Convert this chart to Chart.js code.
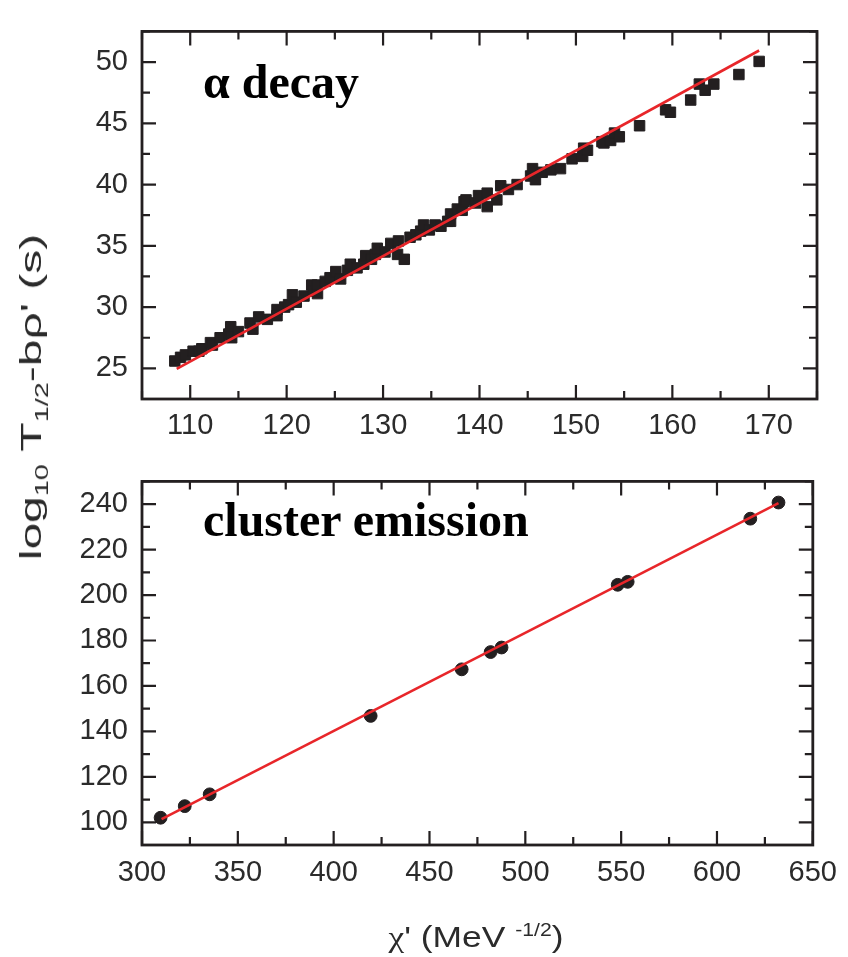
<!DOCTYPE html>
<html><head><meta charset="utf-8">
<script src="https://cdn.jsdelivr.net/npm/chart.js@4.4.1/dist/chart.umd.min.js"></script>
<style>
html,body{margin:0;padding:0;background:#fff;}
#wrap{position:relative;width:848px;height:957px;overflow:hidden;background:#fff;}
.box{position:absolute;left:0;}
.ann{position:absolute;font-family:"Liberation Serif","Times New Roman",serif;font-weight:bold;font-size:48px;line-height:48px;color:#000;white-space:nowrap;}
.ttl{position:absolute;font-family:"Liberation Sans",Arial,sans-serif;font-size:30px;line-height:30px;color:#2b2b2b;white-space:nowrap;}
.ttl sub,.ttl sup{font-size:18px;line-height:0;}
</style></head>
<body><div id="wrap">
<div class="box" style="top:0;width:848px;height:450px"><canvas id="c1" width="848" height="450"></canvas></div>
<div class="box" style="top:450px;width:848px;height:507px"><canvas id="c2" width="848" height="507"></canvas></div>
<div class="ann" style="left:203px;top:58px">α decay</div>
<div class="ann" style="left:203px;top:496px">cluster emission</div>
<div class="ttl" style="left:31px;top:397px;transform:translate(-50%,-50%) rotate(-90deg) scaleX(1.6)">log<sub>10</sub> T<sub>1/2</sub>-bρ' (s)</div>
<div class="ttl" style="left:476px;top:922px;transform:translateX(-50%) scaleX(1.18)"><span style="font-family:'Liberation Serif',serif">χ</span>' (MeV <sup>-1/2</sup>)</div>
</div>
<script>
// ---- alpha decay data ----
const alphaX = [108.4,109.0,109.5,110.3,110.9,111.2,112.1,112.3,113.1,114.0,114.2,114.3,115.0,116.2,116.5,117.1,118.0,119.0,119.0,119.8,120.2,120.6,121.0,121.8,122.6,122.8,123.2,123.2,124.0,124.5,125.1,125.6,126.3,126.6,127.3,128.0,128.2,128.8,129.2,129.4,130.2,130.8,131.5,131.6,132.2,132.8,133.4,133.9,134.2,134.8,135.4,136.0,136.7,137.0,137.0,137.7,138.2,138.4,138.6,139.6,139.9,140.8,140.8,141.8,142.2,143.0,143.9,145.3,145.5,145.8,146.5,147.4,148.4,149.6,150.7,150.8,151.2,152.7,152.9,153.6,154.0,154.5,156.6,159.3,159.8,161.9,162.8,163.4,164.3,166.9,169.0];
const alphaY = [25.6,25.9,26.1,26.4,26.4,26.6,27.1,26.9,27.5,27.8,28.4,27.5,28.0,28.7,28.2,29.2,29.0,29.8,29.3,30.0,30.2,31.0,30.4,30.9,31.8,31.3,31.1,31.8,32.1,32.4,32.9,32.3,33.0,33.5,33.2,33.5,34.2,33.9,34.3,34.8,34.5,35.2,34.3,35.4,33.9,35.7,35.9,36.2,36.7,36.3,36.7,36.6,37.0,37.6,37.0,38.0,37.9,38.6,38.75,38.5,39.1,38.2,39.3,38.75,39.9,39.6,40.0,40.7,41.3,40.4,41.0,41.2,41.3,42.1,42.3,42.97,42.8,43.5,43.4,43.6,44.2,43.9,44.8,46.1,45.9,46.9,48.2,47.7,48.2,48.98,50.05];
const alphaFitX = [108.6, 169.0];
const alphaFitY = [24.95, 50.94];
const alphaXTicks = [110,120,130,140,150,160,170];
const alphaYTicks = [25,30,35,40,45,50];

// ---- cluster emission data ----
const clusterX = [309.7,322.3,335.3,419.3,466.8,481.9,487.6,548.2,553.4,617.4,632.1];
const clusterY = [102.0,107.1,112.3,146.8,167.3,174.9,176.9,204.5,205.8,233.6,240.7];
const clusterFitX = [310.2, 632.1];
const clusterFitY = [101.35, 240.4];
const clusterXTicks = [300,350,400,450,500,550,600,650];
const clusterYTicks = [100,120,140,160,180,200,220,240];

const INK = '#231f20';
const RED = '#e8262a';
const LABEL = '#2b2b2b';

function pts(xs, ys){ return xs.map((v,i)=>({x:v, y:ys[i]})); }

const framePlugin = {
  id:'frame',
  afterDraw(chart){
    const {ctx, chartArea:a} = chart;
    const x = chart.scales.x, y = chart.scales.y;
    const MAJ = 14, MIN = 8;
    function minors(s){
      const t = s.ticks.map(k=>k.value);
      const step = t[1]-t[0];
      const r = [];
      for(let v = t[0]-step/2; v <= s.max+1e-9; v += step){ if(v >= s.min-1e-9) r.push(v); }
      return r;
    }
    ctx.save();
    ctx.strokeStyle = INK;
    ctx.lineWidth = 2.2;
    ctx.beginPath();
    const xt = (v,len)=>{ const p = x.getPixelForValue(v); ctx.moveTo(p,a.bottom); ctx.lineTo(p,a.bottom-len); ctx.moveTo(p,a.top); ctx.lineTo(p,a.top+len); };
    const yt = (v,len)=>{ const p = y.getPixelForValue(v); ctx.moveTo(a.left,p); ctx.lineTo(a.left+len,p); ctx.moveTo(a.right,p); ctx.lineTo(a.right-len,p); };
    x.ticks.forEach(t=>xt(t.value,MAJ));
    minors(x).forEach(v=>xt(v,MIN));
    y.ticks.forEach(t=>yt(t.value,MAJ));
    minors(y).forEach(v=>yt(v,MIN));
    ctx.stroke();
    ctx.lineWidth = 2.8;
    ctx.strokeRect(a.left, a.top, a.right-a.left, a.bottom-a.top);
    ctx.restore();
  }
};

function makeChart(id, cfg){
  return new Chart(document.getElementById(id), {
    type:'scatter',
    data:{ datasets:[
      { data: pts(cfg.fitX, cfg.fitY), showLine:true, borderColor:RED, borderWidth:2.6, pointRadius:0, fill:false },
      { data: pts(cfg.xs, cfg.ys), pointStyle:cfg.style, pointRadius:cfg.r, backgroundColor:INK, borderColor:INK, borderWidth:1 }
    ]},
    options:{
      responsive:false, animation:false, devicePixelRatio:1,
      layout:{ padding:{ top:cfg.padTop, right:31, left:0, bottom:0 } },
      plugins:{ legend:{display:false}, tooltip:{enabled:false} },
      scales:{
        x:{ type:'linear', min:cfg.xmin, max:cfg.xmax,
            grid:{display:false, drawTicks:false}, border:{display:false},
            ticks:{ color:LABEL, font:{family:'"Liberation Sans", Arial, sans-serif', size:29}, padding:cfg.xpad, maxRotation:0, autoSkip:false },
            afterBuildTicks: s => { s.ticks = cfg.xticks.map(v=>({value:v})); },
            afterFit: s => { s.height = cfg.xh; } },
        y:{ type:'linear', min:cfg.ymin, max:cfg.ymax,
            grid:{display:false, drawTicks:false}, border:{display:false},
            ticks:{ color:LABEL, font:{family:'"Liberation Sans", Arial, sans-serif', size:29}, padding:14, autoSkip:false },
            afterBuildTicks: s => { s.ticks = cfg.yticks.map(v=>({value:v})); },
            afterFit: s => { s.width = 142; } }
      }
    },
    plugins:[framePlugin]
  });
}

makeChart('c1', { xs:alphaX, ys:alphaY, fitX:alphaFitX, fitY:alphaFitY, style:'rect', r:7.4,
  xmin:105, xmax:175, ymin:22.5, ymax:52.5, xticks:alphaXTicks, yticks:alphaYTicks,
  padTop:7.5, xh:51, xpad:10 });
makeChart('c2', { xs:clusterX, ys:clusterY, fitX:clusterFitX, fitY:clusterFitY, style:'circle', r:6.4,
  xmin:300, xmax:650, ymin:90, ymax:250, xticks:clusterXTicks, yticks:clusterYTicks,
  padTop:3, xh:112, xpad:11 });
</script>
</body></html>
